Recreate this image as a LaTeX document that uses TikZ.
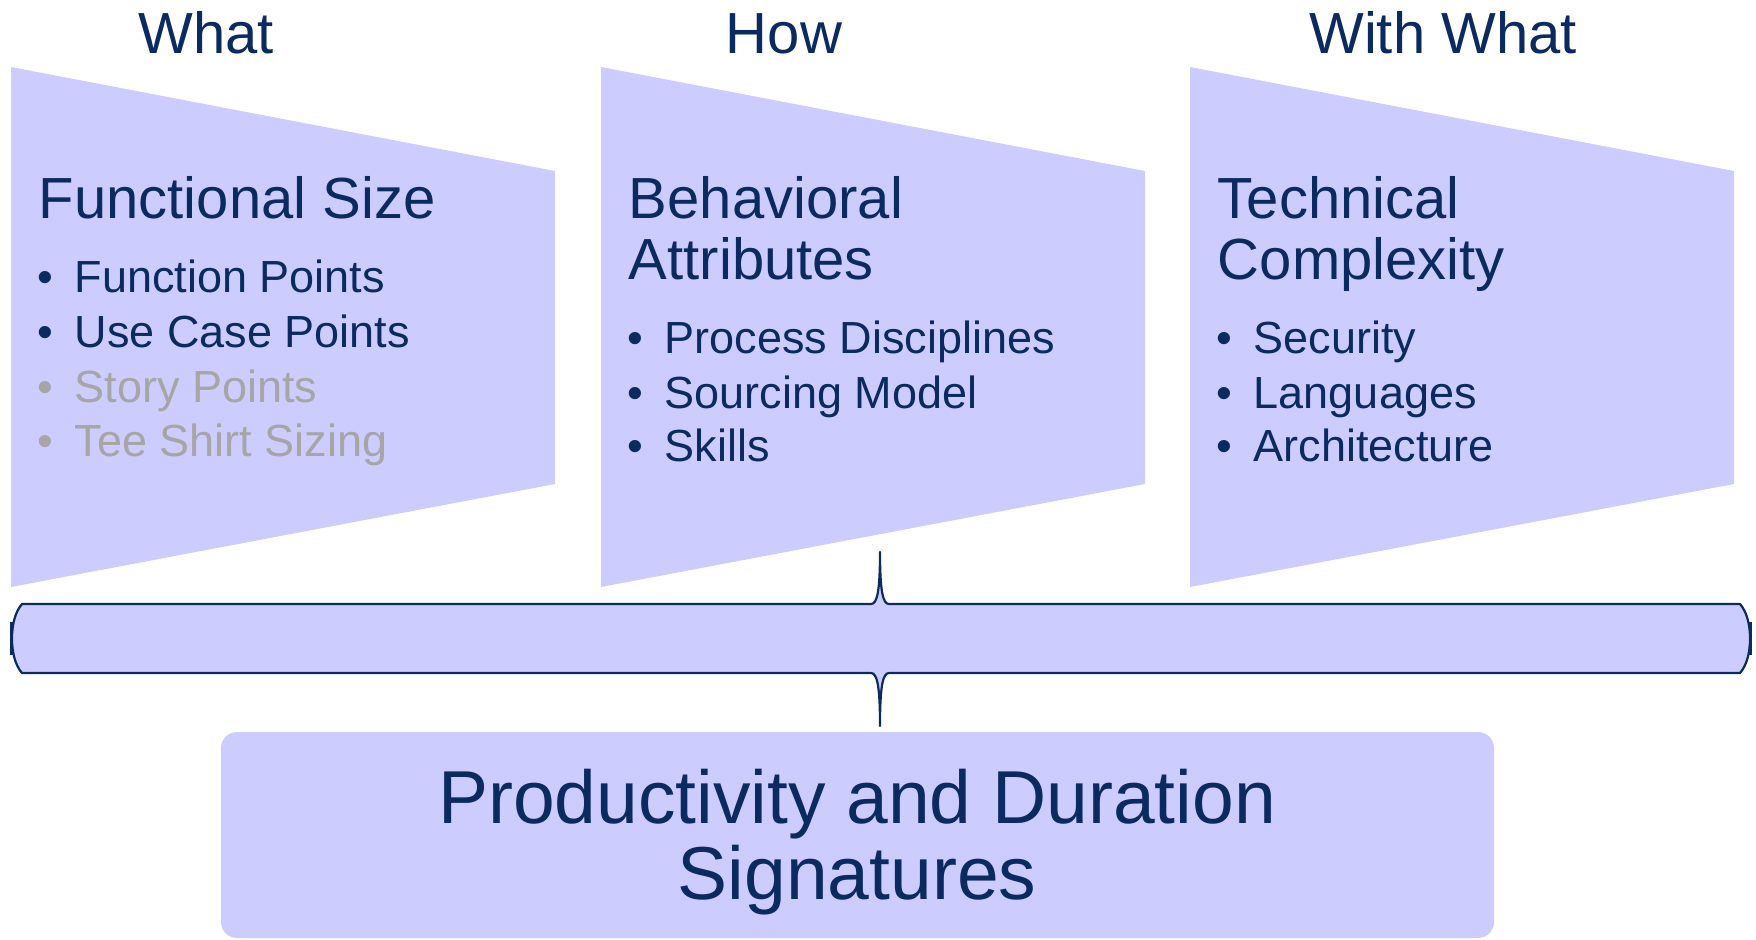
\documentclass[tikz,border=0pt]{standalone}
\usepackage{fontspec}
\setmainfont{Liberation Sans}
\definecolor{lav}{RGB}{204,204,255}
\definecolor{navy}{RGB}{11,42,96}
\definecolor{greyt}{RGB}{166,166,166}
\begin{document}
\begin{tikzpicture}[x=0.5pt,y=-0.5pt,
  title/.style={inner sep=0,anchor=base,text=navy,font=\fontsize{29}{34}\selectfont},
  head/.style={inner sep=0,anchor=base west,text=navy,font=\fontsize{29}{34}\selectfont},
  item/.style={inner sep=0,anchor=base west,text=navy,font=\fontsize{22.5}{27}\selectfont},
  dim/.style={text=greyt},
  bul/.style={inner sep=0,anchor=base,text=navy,font=\fontsize{22.5}{27}\selectfont},
  big/.style={inner sep=0,anchor=base,text=navy,font=\fontsize{37.5}{38}\selectfont},
  trap/.style={fill=lav},
  bracestyle/.style={fill=lav,draw=navy,line width=1.1pt,line join=round},
  tick/.style={draw=navy,line width=1.5pt}
]
\useasboundingbox (0,0) rectangle (1756,939);

% titles
\node[title] (tWhat) at (206,53) {What};
\node[title] (tHow) at (784,53) {How};
\node[title] (tWith) at (1443,53) {With What};

% trapezoids
\foreach \xo in {0,590,1179}{
  \fill[trap] (11+\xo,67) -- (555+\xo,171) -- (555+\xo,484) -- (11+\xo,587) -- cycle;
}

% column 1
\node[head] (h1) at (38.5,218) {Functional Size};
\node[bul] (b11) at (45,292) {•};
\node[item] (i11) at (74.5,292) {Function Points};
\node[bul] (b12) at (45,347) {•};
\node[item] (i12) at (74.5,347) {Use Case Points};
\node[bul,dim] (b13) at (45,402) {•};
\node[item,dim] (i13) at (74.5,402) {Story Points};
\node[bul,dim] (b14) at (45,456) {•};
\node[item,dim] (i14) at (74.5,456) {Tee Shirt Sizing};

% column 2
\node[head] (h2a) at (628.5,218) {Behavioral};
\node[head] (h2b) at (628.5,279) {Attributes};
\node[bul] (b21) at (635,353) {•};
\node[item] (i21) at (664.5,353) {Process Disciplines};
\node[bul] (b22) at (635,408) {•};
\node[item] (i22) at (664.5,408) {Sourcing Model};
\node[bul] (b23) at (635,461) {•};
\node[item] (i23) at (664.5,461) {Skills};

% column 3
\node[head] (h3a) at (1217.5,218) {Technical};
\node[head] (h3b) at (1217.5,279) {Complexity};
\node[bul] (b31) at (1224,353) {•};
\node[item] (i31) at (1253.5,353) {Security};
\node[bul] (b32) at (1224,408) {•};
\node[item] (i32) at (1253.5,408) {Languages};
\node[bul] (b33) at (1224,461) {•};
\node[item] (i33) at (1253.5,461) {Architecture};

% brace
\coordinate (bt) at (880,552);
\coordinate (bb) at (880,726);
\draw[bracestyle]
  (22,604) -- (871,604)
  .. controls (877,604) and (880,592) .. (bt)
  .. controls (880,592) and (883,604) .. (889,604)
  -- (1740,604)
  .. controls (1747,612) and (1750,625) .. (1750,638.5)
  .. controls (1750,652) and (1747,665) .. (1740,673)
  -- (889,673)
  .. controls (883,673) and (880,685) .. (bb)
  .. controls (880,685) and (877,673) .. (871,673)
  -- (22,673)
  .. controls (15,665) and (12,652) .. (12,638.5)
  .. controls (12,625) and (15,612) .. cycle;
\coordinate (lt1) at (11.5,622);
\coordinate (lt2) at (11.5,655);
\coordinate (rt1) at (1750.5,622);
\coordinate (rt2) at (1750.5,655);
\draw[tick] (lt1) -- (lt2);
\draw[tick] (rt1) -- (rt2);

% bottom box
\node[fill=lav,rounded corners=8pt,minimum width=636.5pt,minimum height=103pt,inner sep=0] (sig) at (857.5,835) {};
\node[big] (s1) at (857,823) {Productivity and Duration};
\node[big] (s2) at (857,899) {Signatures};
\end{tikzpicture}
\end{document}
